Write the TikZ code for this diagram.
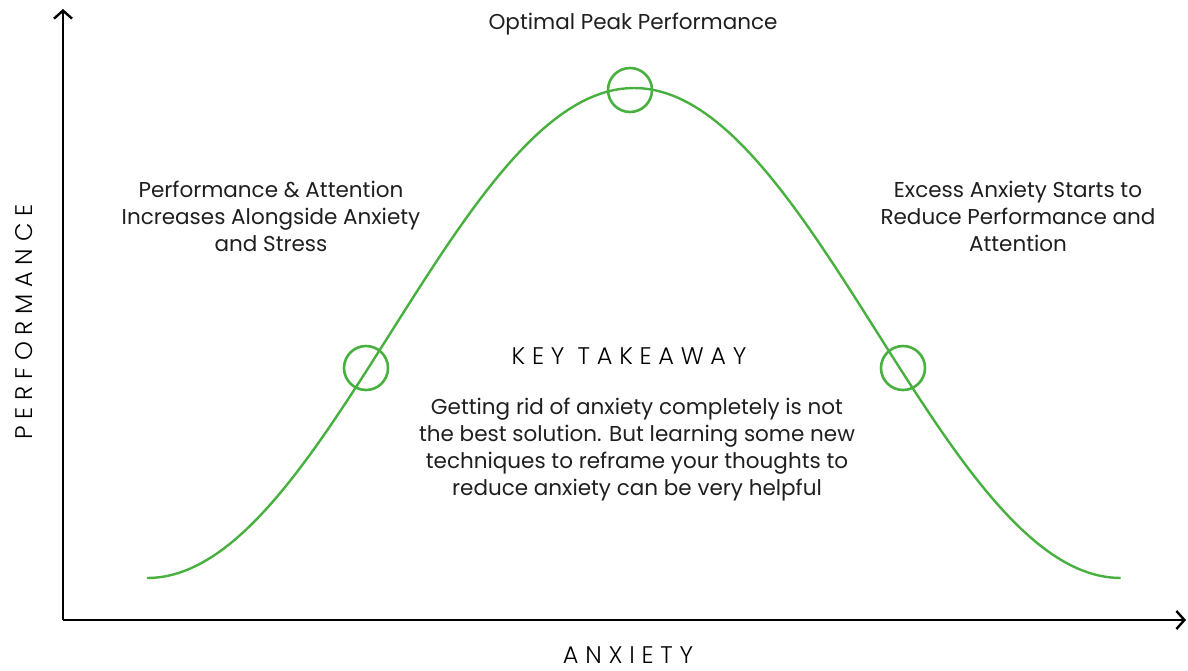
\documentclass[tikz,border=0pt]{standalone}
\usepackage{fontspec}
\setmainfont{Poppins}
\newfontfamily\capsfont[LetterSpace=28]{Poppins Light}
\usetikzlibrary{arrows.meta}
\definecolor{curvegreen}{RGB}{72,176,62}
\tikzset{
  axis/.style={line width=2.4pt,-{Straight Barb[length=8pt,width=18pt,line width=2.4pt]}},
  mark circle/.style={draw=curvegreen,line width=2.6pt,circle,minimum size=44pt,inner sep=0pt},
  label text/.style={align=center,inner sep=0.75pt,font=\fontsize{21.5}{27}\selectfont,text=black!88},
  caps text/.style={inner sep=0.75pt,font=\capsfont\fontsize{24}{26}\selectfont,text=black}
}
\begin{document}
\begin{tikzpicture}[x=1pt,y=1pt,yscale=-1,xscale=1]
\useasboundingbox (0,0) rectangle (1188,670);

%Axes
\coordinate (origin) at (63,620);
\coordinate (ytip) at (63,9);
\coordinate (xtip) at (1186,620);
\draw [axis] (origin) -- (ytip);
\draw [axis] (origin) -- (xtip);

%Bell curve
\draw [curvegreen,line width=2.4pt,domain=-1:1,samples=120,smooth]
  plot ({634+487*\x},{578-245*(1+cos(180*\x))});

%Circles
\node [mark circle] (peak) at (630,90) {};
\node [mark circle] (rise) at (366,368) {};
\node [mark circle] (fall) at (903,368) {};

% Text Node
\node [label text] (peaklabel) at (633,24) {Optimal Peak Performance};
% Text Node
\node [label text] (riselabel) at (271,216) {Performance \& Attention\\Increases Alongside Anxiety\\and Stress};
% Text Node
\node [label text] (falllabel) at (1018,216) {Excess Anxiety Starts to\\Reduce Performance and\\Attention};
% Text Node
\node [caps text] (keyhead) at (629,356) {KEY TAKEAWAY};
% Text Node
\node [label text] (keybody) at (637,450) {Getting rid of anxiety completely is not\\the best solution. But learning some new\\techniques to reframe your thoughts to\\reduce anxiety can be very helpful};
% Text Node
\node [caps text,rotate=90] (ylabel) at (24,322) {PERFORMANCE};
% Text Node
\node [caps text] (xlabel) at (628,655) {ANXIETY};

\end{tikzpicture}
\end{document}
